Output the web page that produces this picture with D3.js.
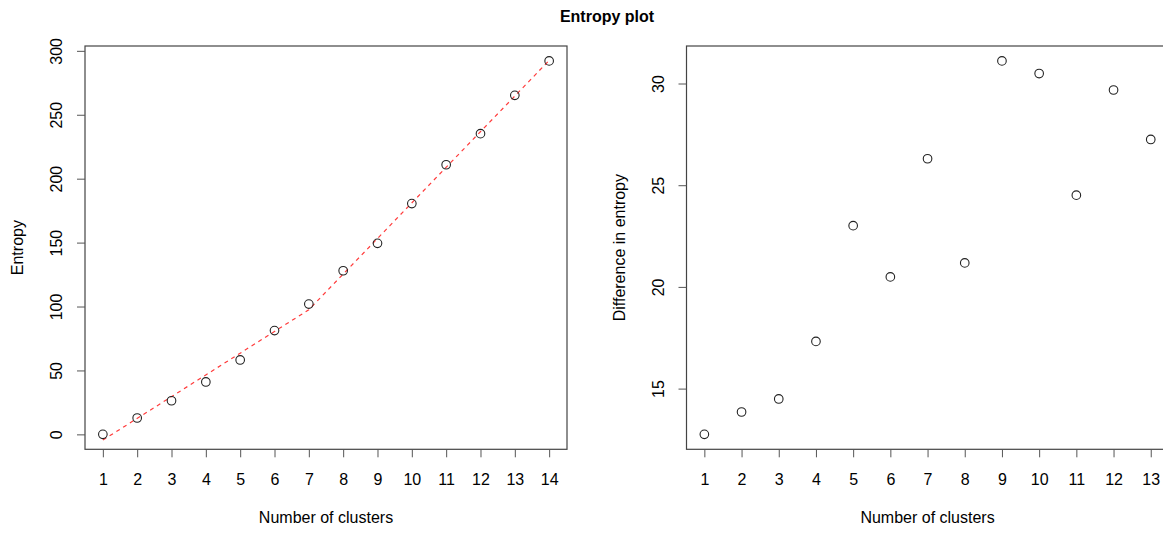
<!DOCTYPE html>
<html>
<head>
<meta charset="utf-8">
<script src="https://cdn.jsdelivr.net/npm/d3@7"></script>
<style>
  body { margin: 0; background: #fff; }
  text { font-family: "Liberation Sans", Arial, sans-serif; fill: #000; }
</style>
</head>
<body>
<div id="chart"></div>
<script>
// Data
const clusters = [1, 2, 3, 4, 5, 6, 7, 8, 9, 10, 11, 12, 13, 14];
const entropy = [0, 12.8, 26.3, 41.0, 58.2, 81.2, 101.9, 128.0, 149.4, 180.5, 210.9, 235.2, 265.2, 292.1];
// fitted (segmented) line: break points
const fitX = [1, 7, 14];
const fitY = [-4.5, 97.5, 292.5];
const diffClusters = [1, 2, 3, 4, 5, 6, 7, 8, 9, 10, 11, 12, 13];
const entropyDiff = [12.75, 13.85, 14.49, 17.32, 23.01, 20.49, 26.30, 21.18, 31.11, 30.49, 24.51, 29.68, 27.25];
const leftYTicks = [0, 50, 100, 150, 200, 250, 300];
const rightYTicks = [15, 20, 25, 30];

const width = 1163;
const height = 534;
const svg = d3.select("#chart").append("svg")
    .attr("width", width)
    .attr("height", height);

// title
svg.append("text")
    .attr("x", 607)
    .attr("y", 22)
    .attr("text-anchor", "middle")
    .style("font-size", "16px")
    .style("font-weight", "bold")
    .text("Entropy plot");

// R style extended range (4% each side)
function rRange(vals) {
    const [lo, hi] = d3.extent(vals);
    const pad = (hi - lo) * 0.04;
    return [lo - pad, hi + pad];
}

function panel(opts) {
    const x = d3.scaleLinear().domain(rRange(opts.xs)).range([opts.left, opts.right]);
    const y = d3.scaleLinear().domain(rRange(opts.ys)).range([opts.bottom, opts.top]);

    // box
    svg.append("rect")
        .attr("x", opts.left)
        .attr("y", opts.top)
        .attr("width", opts.right - opts.left)
        .attr("height", opts.bottom - opts.top)
        .attr("fill", "none")
        .attr("stroke", "#444")
        .attr("stroke-width", 1.2);

    // x axis
    const gx = svg.append("g")
        .attr("transform", `translate(0,${opts.bottom})`)
        .call(d3.axisBottom(x).tickValues(opts.xs).tickSize(8).tickFormat(d3.format("d")));
    gx.select(".domain").remove();
    gx.selectAll(".tick line").attr("stroke", "#555");
    gx.selectAll("text")
        .attr("dy", null)
        .attr("y", 36)
        .style("font-size", "16px")
        .style("font-family", "'Liberation Sans', Arial, sans-serif")
        .attr("fill", "#222");

    // y axis
    const gy = svg.append("g")
        .attr("transform", `translate(${opts.left},0)`)
        .call(d3.axisLeft(y).tickValues(opts.yTicks).tickSize(8));
    gy.select(".domain").remove();
    gy.selectAll(".tick line").attr("stroke", "#555");
    gy.selectAll("text")
        .attr("dy", null)
        .attr("x", null)
        .attr("transform", "translate(-23,0) rotate(-90)")
        .attr("text-anchor", "middle")
        .style("font-size", "16px")
        .style("font-family", "'Liberation Sans', Arial, sans-serif")
        .attr("fill", "#222");

    // axis titles
    svg.append("text")
        .attr("x", (opts.left + opts.right) / 2)
        .attr("y", 523)
        .attr("text-anchor", "middle")
        .style("font-size", "16px")
        .text("Number of clusters");

    svg.append("text")
        .attr("transform", `translate(${opts.left - 62},${(opts.top + opts.bottom) / 2}) rotate(-90)`)
        .attr("text-anchor", "middle")
        .style("font-size", "16px")
        .text(opts.yLabel);

    return { x, y };
}

// left panel
const L = panel({
    xs: clusters, ys: entropy, yTicks: leftYTicks,
    left: 85, right: 567, top: 46, bottom: 449.3,
    yLabel: "Entropy"
});

svg.append("path")
    .datum(d3.zip(fitX, fitY))
    .attr("fill", "none")
    .attr("stroke", "#ff3b3b")
    .attr("stroke-width", 1.2)
    .attr("stroke-dasharray", "4,4")
    .attr("d", d3.line().x(d => L.x(d[0])).y(d => L.y(d[1])));

svg.append("g")
    .selectAll("circle")
    .data(d3.zip(clusters, entropy))
    .join("circle")
    .attr("cx", d => L.x(d[0]))
    .attr("cy", d => L.y(d[1]))
    .attr("r", 4.3)
    .attr("fill", "none")
    .attr("stroke", "#222")
    .attr("stroke-width", 1.1);

// right panel (cut off at the right edge like the reference)
const R = panel({
    xs: diffClusters, ys: entropyDiff, yTicks: rightYTicks,
    left: 686.5, right: 1168.6, top: 46, bottom: 449.3,
    yLabel: "Difference in entropy"
});

svg.append("g")
    .selectAll("circle")
    .data(d3.zip(diffClusters, entropyDiff))
    .join("circle")
    .attr("cx", d => R.x(d[0]))
    .attr("cy", d => R.y(d[1]))
    .attr("r", 4.3)
    .attr("fill", "none")
    .attr("stroke", "#222")
    .attr("stroke-width", 1.1);
</script>
</body>
</html>
